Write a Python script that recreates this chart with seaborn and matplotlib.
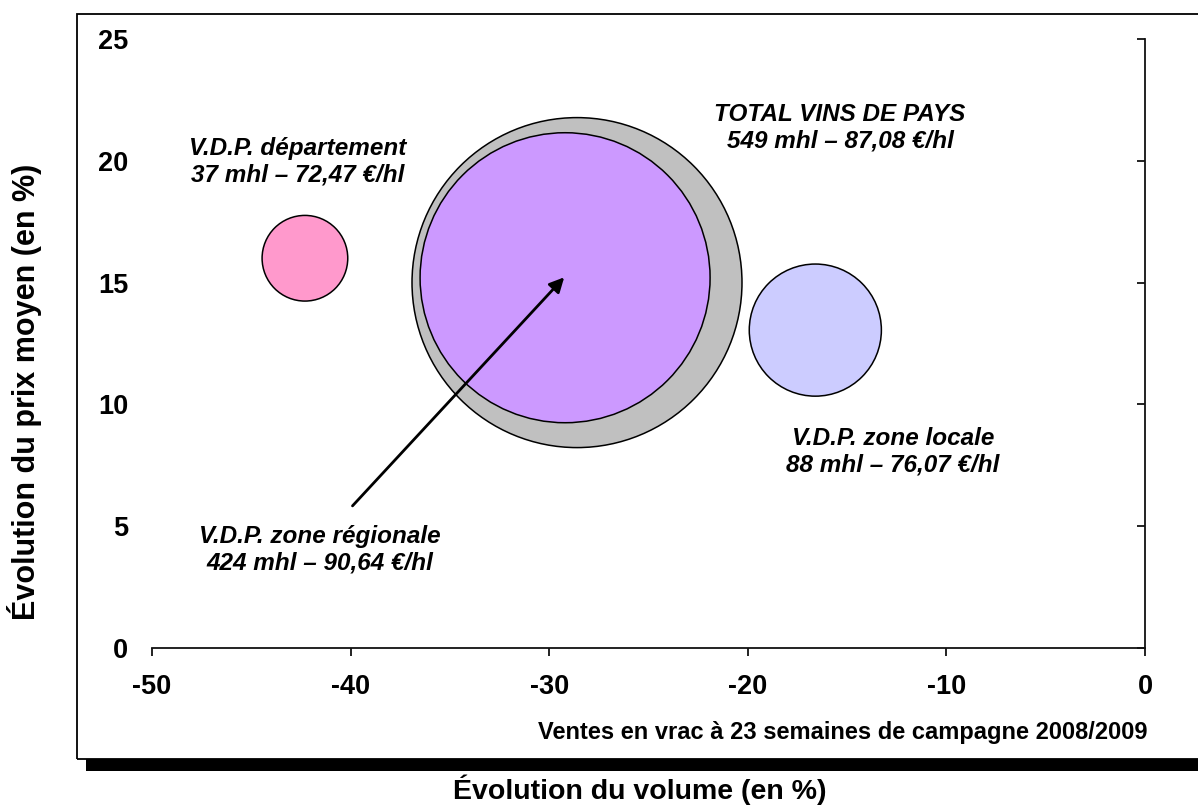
import matplotlib
matplotlib.use("Agg")
import matplotlib.pyplot as plt
from matplotlib.patches import Rectangle
import seaborn as sns
import pandas as pd

# bubble data: volume change (%), price change (%), volume (mhl)
names = ["TOTAL VINS DE PAYS", "V.D.P. zone régionale", "V.D.P. département", "V.D.P. zone locale"]
vol_change = [-28.6, -29.2, -42.3, -16.6]
price_change = [15.0, 15.2, 16.0, 13.05]
volume_mhl = [549, 424, 37, 88]
labels = [
    "TOTAL VINS DE PAYS\n549 mhl – 87,08 €/hl",
    "V.D.P. zone régionale\n424 mhl – 90,64 €/hl",
    "V.D.P. département\n37 mhl – 72,47 €/hl",
    "V.D.P. zone locale\n88 mhl – 76,07 €/hl",
]
colors = {"TOTAL VINS DE PAYS": "#C0C0C0", "V.D.P. zone régionale": "#CC99FF",
          "V.D.P. département": "#FF99CC", "V.D.P. zone locale": "#CCCCFF"}

df = pd.DataFrame({"nom": names, "volume": vol_change, "prix": price_change, "mhl": volume_mhl})

sns.set_theme(style="white")
plt.rcParams["font.family"] = ["Liberation Sans", "DejaVu Sans"]
plt.rcParams["font.weight"] = "bold"
plt.rcParams["axes.unicode_minus"] = False
for k in ["text.color", "axes.labelcolor", "xtick.color", "ytick.color"]:
    plt.rcParams[k] = "black"

fig = plt.figure(figsize=(11.98, 8.07), dpi=100)
ax = fig.add_axes([152 / 1198, 1 - 648 / 807, 993 / 1198, 609 / 807])

sns.scatterplot(data=df, x="volume", y="prix", hue="nom", palette=colors,
                size="mhl", sizes=(0, 56450), size_norm=(0, 549),
                edgecolor="black", linewidth=1.1, alpha=1, legend=False, ax=ax)

ax.set_xlim(-50, 0)
ax.set_ylim(0, 25)
ax.set_xticks(range(-50, 1, 10))
ax.set_yticks(range(0, 26, 5))
for sp in ["left", "top"]:
    ax.spines[sp].set_visible(False)
for sp in ["right", "bottom"]:
    ax.spines[sp].set_visible(True)
    ax.spines[sp].set_color("#111111")
    ax.spines[sp].set_linewidth(1.3)
ax.tick_params(axis="y", left=False, right=True, labelleft=True, labelright=False,
               direction="in", length=6, width=1.3, color="#111111", pad=17, labelsize=19.5)
ax.tick_params(axis="x", bottom=True, direction="out", length=6, width=1.3,
               color="#111111", pad=13, labelsize=19.5)
for t in ax.get_xticklabels() + ax.get_yticklabels():
    t.set_fontweight("bold")
ax.set_xlabel("")
ax.set_ylabel("Évolution du prix moyen (en %)", fontsize=22, fontweight="bold")
ax.yaxis.set_label_coords(-0.111, 0.42)

# annotations
text_pos = [(-15.36, 21.35), (-41.54, 4.02), (-42.65, 19.95), (-12.69, 8.05)]
for (tx, ty), lab in zip(text_pos, labels):
    ax.text(tx, ty, lab, ha="center", va="center", fontsize=17.5, fontweight="bold",
            fontstyle="italic", linespacing=1.2)
ax.annotate("", xy=(-29.15, 15.3), xytext=(-40.0, 5.75),
            arrowprops=dict(arrowstyle="-|>", color="black", lw=2, mutation_scale=22))

fig.text(1147 / 1198, 1 - 733 / 807, "Ventes en vrac à 23 semaines de campagne 2008/2009",
         ha="right", va="center", fontsize=17, fontweight="bold")
fig.text(640 / 1198, 1 - 790 / 807, "Évolution du volume (en %)",
         ha="center", va="center", fontsize=20.5, fontweight="bold")

# chart frame with shadow
fig.patches.append(Rectangle((86 / 1198, 1 - 771 / 807), 1.0, 12 / 807,
                             transform=fig.transFigure, facecolor="black", edgecolor="none"))
fig.patches.append(Rectangle((77 / 1198, 1 - 759 / 807), 1.0, 745 / 807,
                             transform=fig.transFigure, facecolor="none",
                             edgecolor="black", linewidth=1.3))

fig.savefig("out.png", dpi=100)
